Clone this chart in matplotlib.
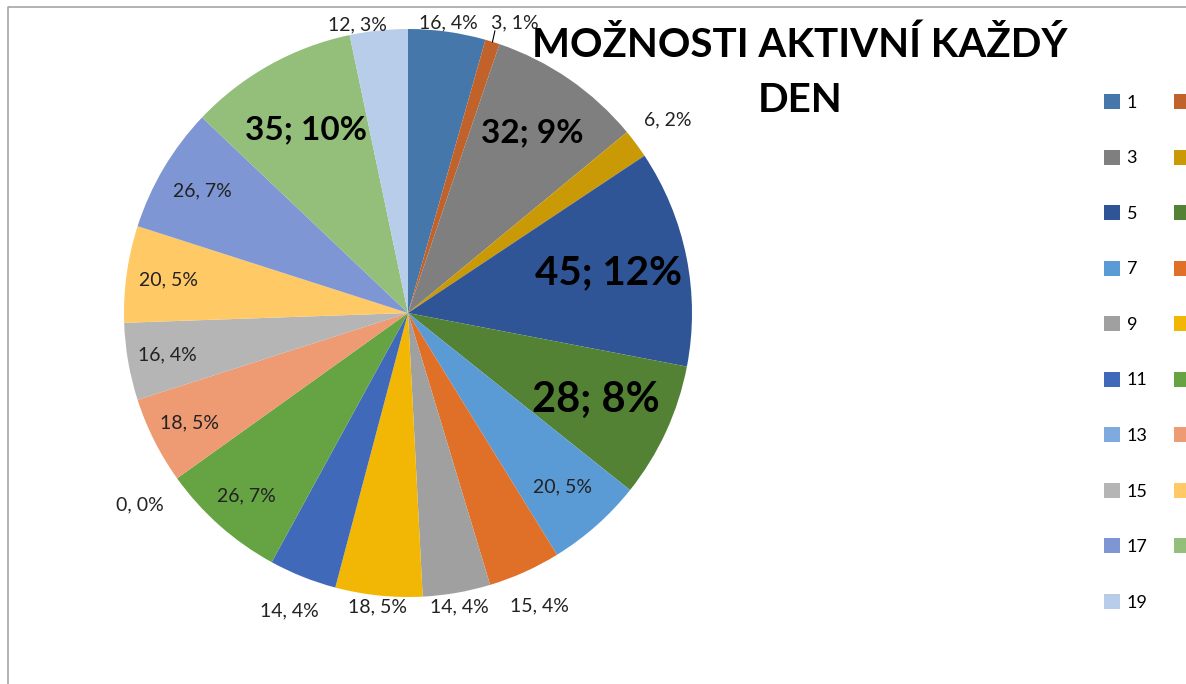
import numpy as np
import matplotlib.pyplot as plt
from matplotlib.patches import Patch
from matplotlib.lines import Line2D

plt.rcParams['font.family'] = ['Lato', 'DejaVu Sans']

categories = [str(i) for i in range(1, 20)]
values = [16, 3, 32, 6, 45, 28, 20, 15, 14, 18, 14, 26, 0, 18, 16, 20, 26, 35, 12]
colors = ['#4677AA', '#C0622A', '#7F7F7F', '#C99A06', '#2F5597', '#548235',
          '#5B9BD5', '#E07028', '#A0A0A0', '#F2B705', '#4169BA', '#66A343',
          '#7FAADD', '#EE9A72', '#B5B5B5', '#FFC966', '#7F96D4', '#93BF7A',
          '#B7CDE9']
# label radius (pie radius = 1), bold/size for the big inside labels
label_r = [1.03, 1.09, 0.77, 1.14, 0.72, 0.73, 0.82, 1.13, 1.05, 1.04,
           1.13, 0.86, 1.16, 0.86, 0.86, 0.85, 0.84, 0.74, 1.03]
big = {2: 24, 4: 29, 5: 30, 17: 24}
nudge = {1: 0.05, 18: -0.07}

fig = plt.figure(figsize=(11.86, 6.84), dpi=100)
ax = fig.add_axes([408 / 1186 - 284 / 1186, 1 - (313 + 284) / 684, 568 / 1186, 568 / 684])

wedges, _ = ax.pie(values, colors=colors, startangle=90, counterclock=False,
                   radius=1, wedgeprops=dict(linewidth=0))
ax.set_xlim(-1, 1)
ax.set_ylim(-1, 1)
ax.set_aspect('equal')
ax.axis('off')

total = sum(values)
cum = np.cumsum([0] + values)
for i, v in enumerate(values):
    mid = (cum[i] + cum[i + 1]) / 2 / total * 2 * np.pi
    a = mid + nudge.get(i, 0)
    x = np.sin(a) * label_r[i]
    y = np.cos(a) * label_r[i]
    pct = round(v / total * 100)
    if i in big:
        ax.text(x, y, f"{v}; {pct}%", ha='center', va='center',
                fontsize=big[i], fontweight='bold', color='black', clip_on=False)
    else:
        ax.text(x, y, f"{v}, {pct}%", ha='center', va='center',
                fontsize=14, color='#222222', clip_on=False)
    if i == 1:
        # leader line for the thin slice
        ex, ey = np.sin(mid), np.cos(mid)
        ax.plot([ex, x - 0.07], [ey, y - 0.03], color='black', lw=0.8, clip_on=False)

fig.text(800 / 1186, 1 - 45 / 684, "MOŽNOSTI AKTIVNÍ KAŽDÝ", ha='center', va='center',
         fontsize=29, fontweight='bold')
fig.text(800 / 1186, 1 - 100 / 684, "DEN", ha='center', va='center',
         fontsize=29, fontweight='bold')

handles = [Patch(facecolor=c, edgecolor='none') for c in colors]
order = list(range(0, 19, 2)) + list(range(1, 19, 2))
fig.legend([handles[i] for i in order], [categories[i] for i in order],
           loc='upper left', bbox_to_anchor=(1104 / 1186, 1 - 94 / 684), ncol=2,
           frameon=False, fontsize=13, handlelength=0.9, handleheight=0.9,
           handletextpad=0.35, labelspacing=2.15, columnspacing=1.45,
           borderaxespad=0, borderpad=0)

fig.add_artist(Line2D([8 / 1186, 8 / 1186, 1], [0, 1 - 7 / 684, 1 - 7 / 684],
                      transform=fig.transFigure, color='#A6A6A6', lw=1.2))

fig.savefig('out.png', dpi=100)
